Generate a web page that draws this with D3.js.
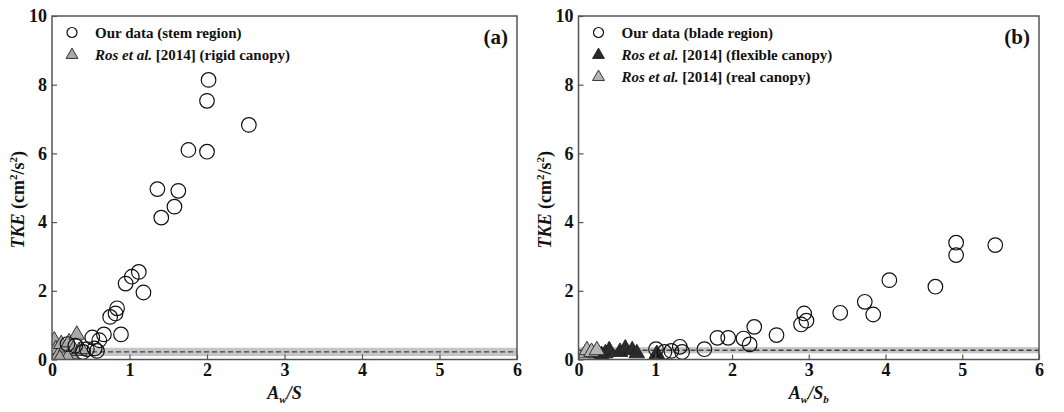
<!DOCTYPE html>
<html>
<head>
<meta charset="utf-8">
<script src="https://cdn.jsdelivr.net/npm/d3@7"></script>
<style>
  html, body { margin: 0; padding: 0; background: #fff; }
  svg text { font-family: "Liberation Serif", "Liberation Sans", Arial, sans-serif; }
</style>
</head>
<body>
<svg id="chart" width="1064" height="412"></svg>
<script>
// ---- Panel (a): stem region ----
const stemData = [
  [2.02, 8.14], [2.00, 7.53], [2.54, 6.83], [1.76, 6.10], [2.00, 6.05],
  [1.36, 4.96], [1.41, 4.13], [1.63, 4.91], [1.58, 4.45],
  [1.12, 2.55], [1.03, 2.41], [0.95, 2.21], [1.18, 1.95],
  [0.84, 1.49], [0.82, 1.34], [0.75, 1.24], [0.89, 0.73],
  [0.67, 0.73], [0.61, 0.56], [0.52, 0.64], [0.58, 0.25], [0.55, 0.32],
  [0.45, 0.30], [0.40, 0.22], [0.20, 0.45], [0.30, 0.40]
];
const rigidData = [
  [0.03, 0.55], [0.05, 0.30], [0.08, 0.12], [0.12, 0.45], [0.15, 0.20],
  [0.18, 0.35], [0.22, 0.50], [0.25, 0.15], [0.28, 0.30], [0.32, 0.72],
  [0.35, 0.25], [0.38, 0.30], [0.20, 0.05], [0.10, 0.02]
];
// lower bound, mean and upper bound of the reference level
const stemBand = [0.10, 0.22, 0.34];

// ---- Panel (b): blade region ----
const bladeData = [
  [5.43, 3.33], [4.92, 3.40], [4.92, 3.04], [4.65, 2.12], [4.05, 2.31],
  [3.73, 1.68], [3.84, 1.31], [3.41, 1.36], [2.94, 1.34], [2.97, 1.13],
  [2.90, 1.02], [2.58, 0.71], [2.29, 0.95], [2.15, 0.61], [2.23, 0.44],
  [1.95, 0.63], [1.81, 0.63], [1.64, 0.30], [1.32, 0.37], [1.35, 0.22],
  [1.21, 0.25], [1.12, 0.22], [1.01, 0.30]
];
const flexibleData = [
  [0.22, 0.18], [0.30, 0.13], [0.35, 0.18], [0.40, 0.27], [0.54, 0.22],
  [0.61, 0.32], [0.70, 0.27], [0.76, 0.18], [1.02, 0.16]
];
const realData = [
  [0.09, 0.18], [0.11, 0.27], [0.17, 0.22], [0.24, 0.27]
];
const bladeBand = [0.18, 0.27, 0.36];

const xTicks = [0, 1, 2, 3, 4, 5, 6];
const yTicks = [0, 2, 4, 6, 8, 10];

const panels = [
  {
    left: 52, right: 517, top: 16, bottom: 359.5,
    tag: "(a)", circles: stemData, band: stemBand, xSub: null, xDen: "S",
    triangles: [{ data: rigidData, fill: "#a8a8a8" }],
    legend: [
      { sym: "circle", parts: [["Our data (stem region)", "normal"]] },
      { sym: "tri", fill: "#a8a8a8", parts: [["Ros et al.", "italic"], [" [2014] (rigid canopy)", "normal"]] }
    ]
  },
  {
    left: 578.5, right: 1039, top: 16, bottom: 359.5,
    tag: "(b)", circles: bladeData, band: bladeBand, xSub: "b", xDen: "S",
    triangles: [
      { data: flexibleData, fill: "#2a2a2a" },
      { data: realData, fill: "#b5b5b5" }
    ],
    legend: [
      { sym: "circle", parts: [["Our data (blade region)", "normal"]] },
      { sym: "tri", fill: "#2a2a2a", parts: [["Ros et al.", "italic"], [" [2014] (flexible canopy)", "normal"]] },
      { sym: "tri", fill: "#b5b5b5", parts: [["Ros et al.", "italic"], [" [2014] (real canopy)", "normal"]] }
    ]
  }
];

const svg = d3.select("#chart");
const tri = d3.symbol().type(d3.symbolTriangle).size(105);
const triSmall = d3.symbol().type(d3.symbolTriangle).size(62);

panels.forEach(p => {
  const x = d3.scaleLinear().domain([0, 6]).range([p.left, p.right]);
  const y = d3.scaleLinear().domain([0, 10]).range([p.bottom, p.top]);
  const g = svg.append("g");

  const clipId = "clip" + p.tag.replace(/\W/g, "");
  svg.append("clipPath").attr("id", clipId)
    .append("rect").attr("x", p.left).attr("y", p.top)
    .attr("width", p.right - p.left).attr("height", p.bottom - p.top);

  // reference band and mean line
  g.append("rect")
    .attr("x", x(0)).attr("width", x(6) - x(0))
    .attr("y", y(p.band[2])).attr("height", y(p.band[0]) - y(p.band[2]))
    .attr("fill", "#c4c4c4");
  g.append("line")
    .attr("x1", x(0)).attr("x2", x(6))
    .attr("y1", y(p.band[1])).attr("y2", y(p.band[1]))
    .attr("stroke", "#444").attr("stroke-width", 1.3)
    .attr("stroke-dasharray", "5,3");

  // data marks
  const marks = g.append("g").attr("clip-path", `url(#${clipId})`);
  p.triangles.forEach(t => {
    marks.selectAll(null).data(t.data).enter().append("path")
      .attr("d", tri)
      .attr("transform", d => `translate(${x(d[0])},${y(d[1])})`)
      .attr("fill", t.fill).attr("stroke", "#222").attr("stroke-width", 0.9);
  });
  marks.selectAll(null).data(p.circles).enter().append("circle")
    .attr("cx", d => x(d[0])).attr("cy", d => y(d[1])).attr("r", 7.3)
    .attr("fill", "none").attr("stroke", "#111").attr("stroke-width", 1.2);

  // axes with inward ticks
  const xAxis = g.append("g").attr("transform", `translate(0,${p.bottom})`)
    .call(d3.axisBottom(x).tickValues(xTicks).tickSize(-5).tickPadding(4).tickFormat(d3.format("d")));
  const yAxis = g.append("g").attr("transform", `translate(${p.left},0)`)
    .call(d3.axisLeft(y).tickValues(yTicks).tickSize(-5).tickPadding(5).tickFormat(d3.format("d")));
  [xAxis, yAxis].forEach(a => {
    a.attr("font-family", null);
    a.select(".domain").remove();
    a.selectAll("line").attr("stroke", "#555").attr("stroke-width", 1.2);
    a.selectAll("text").attr("font-size", 18).attr("font-weight", "bold").attr("fill", "#111");
  });

  // frame
  g.append("rect")
    .attr("x", p.left).attr("y", p.top)
    .attr("width", p.right - p.left).attr("height", p.bottom - p.top)
    .attr("fill", "none").attr("stroke", "#555").attr("stroke-width", 1.5);

  // panel tag
  g.append("text").attr("x", p.right - 9).attr("y", p.top + 28)
    .attr("text-anchor", "end").attr("font-size", 21).attr("font-weight", "bold")
    .attr("fill", "#111").text(p.tag);

  // legend
  p.legend.forEach((item, i) => {
    const cy = p.top + 16.5 + i * 22;
    const sx = p.left + 20;
    if (item.sym === "circle") {
      g.append("circle").attr("cx", sx).attr("cy", cy).attr("r", 5)
        .attr("fill", "none").attr("stroke", "#111").attr("stroke-width", 1.2);
    } else {
      g.append("path").attr("d", triSmall)
        .attr("transform", `translate(${sx},${cy + 0.5})`)
        .attr("fill", item.fill).attr("stroke", "#222").attr("stroke-width", 0.9);
    }
    const t = g.append("text").attr("x", p.left + 43).attr("y", cy + 5)
      .attr("font-size", 15).attr("font-weight", "bold").attr("fill", "#111");
    item.parts.forEach(pt => t.append("tspan").attr("font-style", pt[1]).text(pt[0]));
  });

  // x axis title: A_w / S (or S_b)
  const xt = g.append("text").attr("x", (p.left + p.right) / 2).attr("y", 399)
    .attr("text-anchor", "middle").attr("font-size", 18).attr("font-weight", "bold")
    .attr("font-style", "italic").attr("fill", "#111");
  xt.append("tspan").text("A");
  xt.append("tspan").attr("font-size", 11).attr("dy", 4).text("w");
  xt.append("tspan").attr("dy", -4).text("/" + p.xDen);
  if (p.xSub) xt.append("tspan").attr("font-size", 11).attr("dy", 4).text(p.xSub);

  // y axis title: TKE (cm^2/s^2)
  const yt = g.append("text")
    .attr("transform", `translate(${p.left - 28},${(p.top + p.bottom) / 2 + 12}) rotate(-90)`)
    .attr("text-anchor", "middle").attr("font-size", 18).attr("font-weight", "bold")
    .attr("fill", "#111");
  yt.append("tspan").attr("font-style", "italic").text("TKE");
  yt.append("tspan").text(" (cm");
  yt.append("tspan").attr("font-size", 11).attr("dy", -7).text("2");
  yt.append("tspan").attr("dy", 7).text("/s");
  yt.append("tspan").attr("font-size", 11).attr("dy", -7).text("2");
  yt.append("tspan").attr("dy", 7).text(")");
});
</script>
</body>
</html>
